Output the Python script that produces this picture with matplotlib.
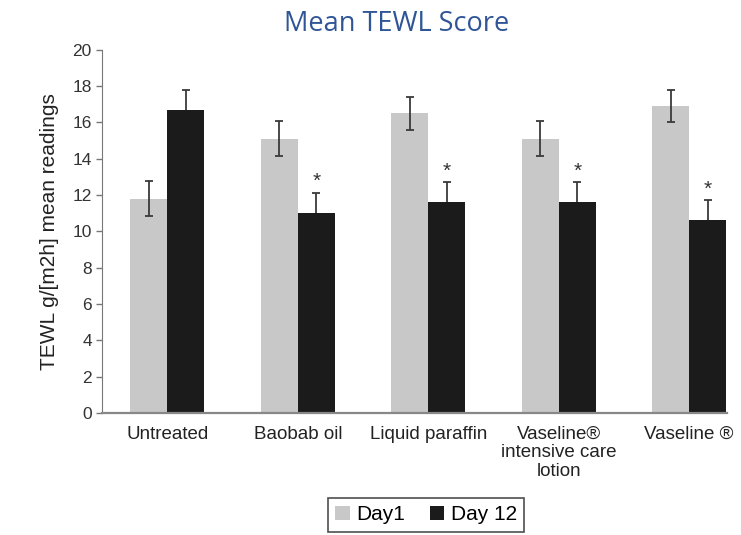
import matplotlib.pyplot as plt
import numpy as np

# data
categories = ['Untreated', 'Baobab oil', 'Liquid paraffin',
              'Vaseline®\nintensive care\nlotion', 'Vaseline ®']
day1 = [11.8, 15.1, 16.5, 15.1, 16.9]
day1_err = [0.95, 0.95, 0.9, 0.97, 0.9]
day12 = [16.7, 11.0, 11.6, 11.6, 10.6]
day12_err = [1.1, 1.14, 1.13, 1.13, 1.14]
significant = [False, True, True, True, True]

plt.rcParams['font.family'] = ['Liberation Sans', 'DejaVu Sans']

fig = plt.figure(figsize=(7.41, 5.35), dpi=100)
ax = fig.add_axes([0.138, 0.228, 0.843, 0.679])

x = np.arange(len(categories))
w = 0.284
ax.bar(x - w / 2, day1, w, yerr=day1_err, color='#c8c8c8', label='Day1',
       error_kw=dict(ecolor='#3a3a3a', elinewidth=1.3, capsize=3,
                     capthick=1.3))
# error bars of the dark bars sit behind them, so only the upper half shows
ax.bar(x + w / 2, day12, w, yerr=day12_err, color='#1b1b1b', label='Day 12',
       zorder=3, error_kw=dict(ecolor='#3a3a3a', elinewidth=1.3, capsize=3,
                               capthick=1.3, zorder=2))

for i in range(len(categories)):
    if significant[i]:
        ax.text(x[i] + w / 2, day12[i] + day12_err[i] + 0.6, '*',
                ha='center', va='center', fontsize=15, color='#333333')

ax.set_xlim(-0.5, 4.29)
ax.set_ylim(0, 20)
ax.set_yticks(range(0, 21, 2))
ax.set_xticks(x)
ax.set_xticklabels(categories, fontsize=13.5, color='#222222', linespacing=1.15)
ax.tick_params(axis='x', length=0, pad=9)
ax.tick_params(axis='y', labelsize=12.5, labelcolor='#333333', color='#777777',
               length=4, width=1)

for s in ['top', 'right']:
    ax.spines[s].set_visible(False)
ax.spines['left'].set_color('#777777')
ax.spines['bottom'].set_color('#888888')
ax.spines['bottom'].set_linewidth(1.6)
ax.spines['bottom'].set_zorder(4)

ax.set_ylabel('TEWL g/[m2h] mean readings', fontsize=15, color='#222222',
              labelpad=10)

fig.text(0.535, 0.955, 'Mean TEWL Score', ha='center', va='center',
         fontsize=19.5, color='#2f5597', family='Open Sans')

leg = ax.legend(loc='center', bbox_to_anchor=(0.518, -0.28), ncol=2,
                fontsize=15, frameon=True, fancybox=False, handlelength=0.7,
                handleheight=0.7, handletextpad=0.3, columnspacing=1.2,
                borderpad=0.35)
leg.get_frame().set_edgecolor('#222222')
leg.get_frame().set_linewidth(1.2)

fig.savefig('out.png', dpi=100)
